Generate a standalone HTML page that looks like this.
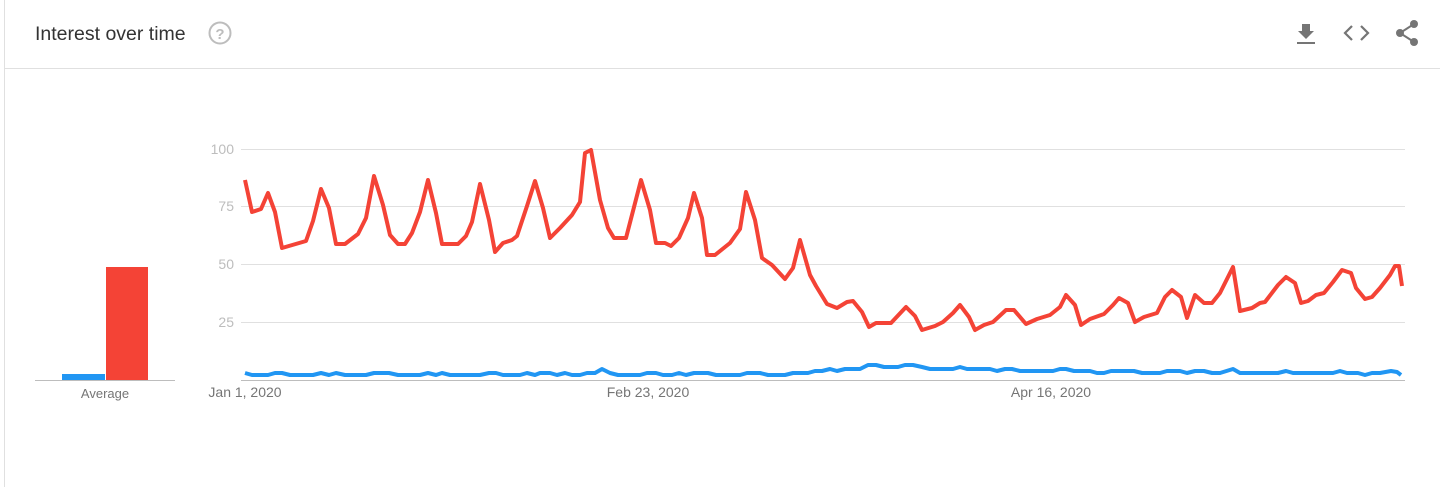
<!DOCTYPE html>
<html><head><style>
body{margin:0;background:#fff;font-family:"Liberation Sans",Arial,sans-serif;}
</style></head><body>
<svg width="1440" height="487" xmlns="http://www.w3.org/2000/svg" style="display:block">
<rect x="4.5" y="-1" width="1440" height="490" fill="#fff" stroke="#e0e0e0"/>
<text x="35" y="40" font-size="19.5" fill="#333" font-family="Liberation Sans,Arial,sans-serif">Interest over time</text>
<circle cx="220" cy="33" r="10.5" fill="none" stroke="#bdbdbd" stroke-width="2"/>
<text x="220" y="39" font-size="15" font-weight="bold" fill="#bdbdbd" text-anchor="middle" font-family="Liberation Sans,Arial,sans-serif">?</text>
<line x1="5" y1="68.5" x2="1440" y2="68.5" stroke="#e0e0e0"/>
<path d="M1302 24h8v7h4l-8 8-8-8h4z M1297 42h18v2h-18z" fill="#757575"/>
<path d="M1352 26l-7 7 7 7 M1361 26l7 7-7 7" fill="none" stroke="#757575" stroke-width="2.2"/>
<g fill="#757575"><circle cx="1414" cy="24" r="4"/><circle cx="1400" cy="33" r="4"/><circle cx="1414" cy="42" r="4"/></g>
<path d="M1414 24L1400 33L1414 42" stroke="#757575" stroke-width="2" fill="none"/>
<g stroke="#e0e0e0" stroke-width="1">
<line x1="241" y1="149.5" x2="1405" y2="149.5"/>
<line x1="241" y1="206.5" x2="1405" y2="206.5"/>
<line x1="241" y1="264.5" x2="1405" y2="264.5"/>
<line x1="241" y1="322.5" x2="1405" y2="322.5"/>
</g>
<line x1="241" y1="380.5" x2="1405" y2="380.5" stroke="#bdbdbd"/>
<g font-size="14" fill="#bdbdbd" text-anchor="end" font-family="Liberation Sans,Arial,sans-serif">
<text x="234" y="154">100</text><text x="234" y="211">75</text><text x="234" y="269">50</text><text x="234" y="327">25</text>
</g>
<g font-size="14" fill="#757575" text-anchor="middle" font-family="Liberation Sans,Arial,sans-serif">
<text x="245" y="397">Jan 1, 2020</text><text x="648" y="397">Feb 23, 2020</text><text x="1051" y="397">Apr 16, 2020</text>
<text x="105" y="398" font-size="13">Average</text>
</g>
<rect x="62" y="374" width="43" height="6" fill="#2196f3"/>
<rect x="106" y="267" width="42" height="113" fill="#f44336"/>
<line x1="35" y1="380.5" x2="175" y2="380.5" stroke="#bdbdbd"/>
<polyline fill="none" stroke="#2196f3" stroke-width="4" stroke-linejoin="round" points="245,373 252,375 268,375 275,373 282,373 290,375 313,375 321,373 329,375 336,373 345,375 366,375 374,373 389,373 398,375 420,375 428,373 436,375 442,373 450,375 480,375 489,373 496,373 503,375 520,375 527,373 535,375 540,373 550,373 557,375 565,373 572,375 580,375 587,373 595,373 602,369 610,373 618,375 640,375 647,373 656,373 663,375 672,375 679,373 686,375 694,373 708,373 716,375 740,375 747,373 760,373 768,375 785,375 793,373 808,373 815,371 822,371 830,369 837,371 845,369 860,369 868,365 876,365 884,367 898,367 905,365 913,365 922,367 930,369 953,369 960,367 967,369 990,369 997,371 1005,369 1012,369 1020,371 1053,371 1060,369 1066,369 1074,371 1090,371 1097,373 1104,373 1111,371 1134,371 1142,373 1160,373 1167,371 1180,371 1187,373 1195,371 1204,371 1212,373 1220,373 1233,369 1240,373 1278,373 1286,371 1293,373 1333,373 1340,371 1347,373 1358,373 1365,375 1372,373 1380,373 1391,371 1397,372 1401,375"/>
<polyline fill="none" stroke="#f44336" stroke-width="4" stroke-linejoin="round" points="245,180 252,212 261,209 268,193 275,212 282,248 306,241 313,221 321,189 329,208 336,244 345,244 358,234 366,218 374,176 383,205 390,235 398,244 405,244 412,233 420,212 428,180 436,213 442,244 458,244 466,236 472,222 480,184 489,220 495,252 503,243 512,240 517,236 527,206 535,181 543,208 550,238 560,228 572,215 580,202 585,153 591,150 600,200 608,228 614,238 626,238 641,180 650,210 656,243 665,243 671,246 679,238 688,218 694,193 702,218 707,255 715,255 730,243 740,229 746,192 755,220 762,258 772,265 785,279 793,268 800,240 810,275 816,286 827,304 837,308 847,302 853,301 862,312 869,327 876,323 891,323 906,307 915,316 922,330 935,326 943,322 953,313 960,305 969,317 975,330 984,325 993,322 1006,310 1014,310 1026,324 1037,319 1050,315 1060,307 1066,295 1075,305 1081,325 1090,319 1104,314 1113,305 1119,298 1128,303 1135,322 1144,317 1157,313 1165,297 1172,290 1181,297 1187,318 1195,295 1204,303 1212,303 1220,293 1233,267 1240,311 1252,308 1260,303 1265,302 1278,285 1286,277 1295,283 1301,303 1308,301 1316,295 1324,293 1333,282 1342,270 1351,273 1356,288 1365,299 1372,297 1380,288 1390,275 1395,266 1399,266 1402,286"/>
</svg>
</body></html>
